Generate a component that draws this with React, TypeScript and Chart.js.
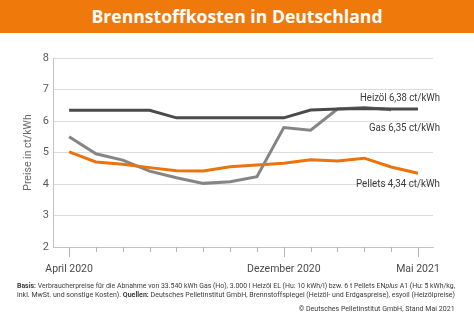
import React, { useEffect, useLayoutEffect, useRef } from "react";
import { Chart, registerables } from "chart.js";
Chart.register(...registerables);

const months = [
  "April 2020", "Mai 2020", "Juni 2020", "Juli 2020", "August 2020", "September 2020",
  "Oktober 2020", "November 2020", "Dezember 2020", "Januar 2021", "Februar 2021",
  "März 2021", "April 2021", "Mai 2021",
];
const shownTicks = ["April 2020", "Dezember 2020", "Mai 2021"];
const heizoel = [6.34, 6.34, 6.34, 6.34, 6.1, 6.1, 6.1, 6.1, 6.1, 6.35, 6.38, 6.4, 6.38, 6.38];
const gas = [5.5, 4.96, 4.76, 4.41, 4.2, 4.02, 4.07, 4.23, 5.79, 5.71, 6.38, 6.43, 6.36, null];
const pellets = [5.02, 4.7, 4.63, 4.52, 4.42, 4.41, 4.55, 4.6, 4.66, 4.77, 4.73, 4.82, 4.54, 4.34];
const seriesNames = ["Heizöl", "Gas", "Pellets"];
const endLabels = ["Heizöl 6,38 ct/kWh", "Gas 6,35 ct/kWh", "Pellets 4,34 ct/kWh"];
const endValues = [6.38, 6.35, 4.34];
const yTicks = [2, 3, 4, 5, 6, 7, 8];

const FONT = 'Roboto, "Noto Sans", sans-serif';

const toPoints = (arr: (number | null)[]) => arr.map((v, i) => ({ x: i, y: v }));

const labelOffsets = [-10.5, 18, 11];
const labelWidths = [80, 71, 84];

const decorPlugin = {
  id: "decor",
  afterDatasetsDraw(chart: any) {
    const { ctx, chartArea } = chart;
    const xs = chart.scales.x;
    const ys = chart.scales.y;
    ctx.save();
    ctx.strokeStyle = "#b5b5b5";
    ctx.lineWidth = 1;
    months.forEach((m, i) => {
      const x = Math.round(xs.getPixelForValue(i)) + 0.5;
      const len = shownTicks.includes(m) ? 10 : 5;
      ctx.beginPath();
      ctx.moveTo(x, chartArea.bottom);
      ctx.lineTo(x, chartArea.bottom + len);
      ctx.stroke();
    });
    ctx.fillStyle = "#3a3a3a";
    ctx.font = `11px ${FONT}`;
    ctx.textAlign = "right";
    ctx.textBaseline = "middle";
    endLabels.forEach((t, k) => {
      const y = ys.getPixelForValue(endValues[k]) + labelOffsets[k];
      ctx.fillText(t, chartArea.right + 7, y, labelWidths[k]);
    });
    ctx.restore();
  },
};

function ChartBox() {
  const ref = useRef<HTMLCanvasElement>(null);
  useEffect(() => {
    if (!ref.current) return;
    const chart = new Chart(ref.current, {
      type: "line",
      data: {
        datasets: [
          { label: seriesNames[2], data: toPoints(pellets), borderColor: "#e8730f", borderWidth: 3, pointRadius: 0, tension: 0 },
          { label: seriesNames[0], data: toPoints(heizoel), borderColor: "#4a4a4a", borderWidth: 3, pointRadius: 0, tension: 0 },
          { label: seriesNames[1], data: toPoints(gas), borderColor: "#858585", borderWidth: 3, pointRadius: 0, tension: 0, spanGaps: false },
        ],
      },
      options: {
        responsive: false,
        animation: false,
        events: [],
        layout: { padding: { left: 0, right: 41, top: 25, bottom: 0 } },
        plugins: { legend: { display: false }, tooltip: { enabled: false } },
        scales: {
          x: {
            type: "linear",
            min: -0.6,
            max: 13.56,
            afterFit: (s: any) => { s.height = 31; },
            afterBuildTicks: (s: any) => { s.ticks = months.map((_, i) => ({ value: i })); },
            grid: { display: true, color: "rgba(0,0,0,0)", drawTicks: false },
            border: { display: true, color: "#c4c4c4", width: 1 },
            ticks: {
              autoSkip: false,
              maxRotation: 0,
              padding: 16,
              color: "#4a4a4a",
              font: { family: FONT, size: 10.5 },
              callback: (v: any) => {
                const m = months[v as number];
                return shownTicks.includes(m) ? m : "";
              },
            },
          },
          y: {
            min: 2,
            max: 8,
            afterFit: (s: any) => { s.width = 53; },
            afterBuildTicks: (s: any) => { s.ticks = yTicks.map((v) => ({ value: v })); },
            grid: { color: "#dcdcdc", drawTicks: false, lineWidth: 1 },
            border: { display: true, color: "#c4c4c4", width: 1 },
            ticks: { padding: 4, color: "#5a5a5a", font: { family: FONT, size: 11 } },
            title: {
              display: true,
              text: "Preise in ct/kWh",
              color: "#6a6a6a",
              font: { family: FONT, size: 10.5 },
              padding: { top: 22, bottom: 0 },
            },
          },
        },
      },
      plugins: [decorPlugin],
    });
    return () => chart.destroy();
  }, []);
  return <canvas ref={ref} width={474} height={245} style={{ position: "absolute", left: 0, top: 33, width: 474, height: 245 }} />;
}

function FitLine({ width, align, children, top }: { width: number; align: "left" | "right"; children: any; top: number }) {
  const ref = useRef<HTMLSpanElement>(null);
  useLayoutEffect(() => {
    const el = ref.current;
    if (!el) return;
    el.style.transform = "none";
    const w = el.getBoundingClientRect().width;
    if (w > 0) el.style.transform = `scaleX(${width / w})`;
  }, [width]);
  const style: any = {
    position: "absolute",
    top,
    whiteSpace: "nowrap",
    display: "inline-block",
    transformOrigin: align === "left" ? "left center" : "right center",
  };
  if (align === "left") style.left = 17;
  else style.right = 474 - 455;
  return <span ref={ref} style={style}>{children}</span>;
}

export default function App() {
  return (
    <div style={{ position: "absolute", left: 0, top: 0, width: 474, height: 328, background: "#fff", overflow: "hidden" }}>
      <div
        style={{
          position: "absolute", left: 0, top: 0, width: 474, height: 33,
          background: "#ef7a0b", color: "#fff", fontFamily: '"Open Sans", sans-serif',
          fontWeight: 700, fontSize: 17.6, lineHeight: "33px", textAlign: "center",
        }}
      >
        Brennstoffkosten in Deutschland
      </div>
      <ChartBox />
      <div style={{ position: "absolute", left: 0, top: 0, width: 474, height: 328, fontFamily: FONT, fontSize: 8, lineHeight: "10px", color: "#3a3a3a" }}>
        <FitLine width={438} align="left" top={280.5}>
          <b>Basis:</b> Verbraucherpreise für die Abnahme von 33.540 kWh Gas (Ho), 3.000 l Heizöl EL (Hu: 10 kWh/l) bzw. 6 t Pellets EN<i>plus</i> A1 (Hu: 5 kWh/kg,
        </FitLine>
        <FitLine width={438} align="left" top={290}>
          inkl. MwSt. und sonstige Kosten). <b>Quellen:</b> Deutsches Pelletinstitut GmbH, Brennstoffspiegel (Heizöl- und Erdgaspreise), esyoil (Heizölpreise)
        </FitLine>
        <FitLine width={156} align="right" top={304}>
          © Deutsches Pelletinstitut GmbH, Stand Mai 2021
        </FitLine>
      </div>
    </div>
  );
}
